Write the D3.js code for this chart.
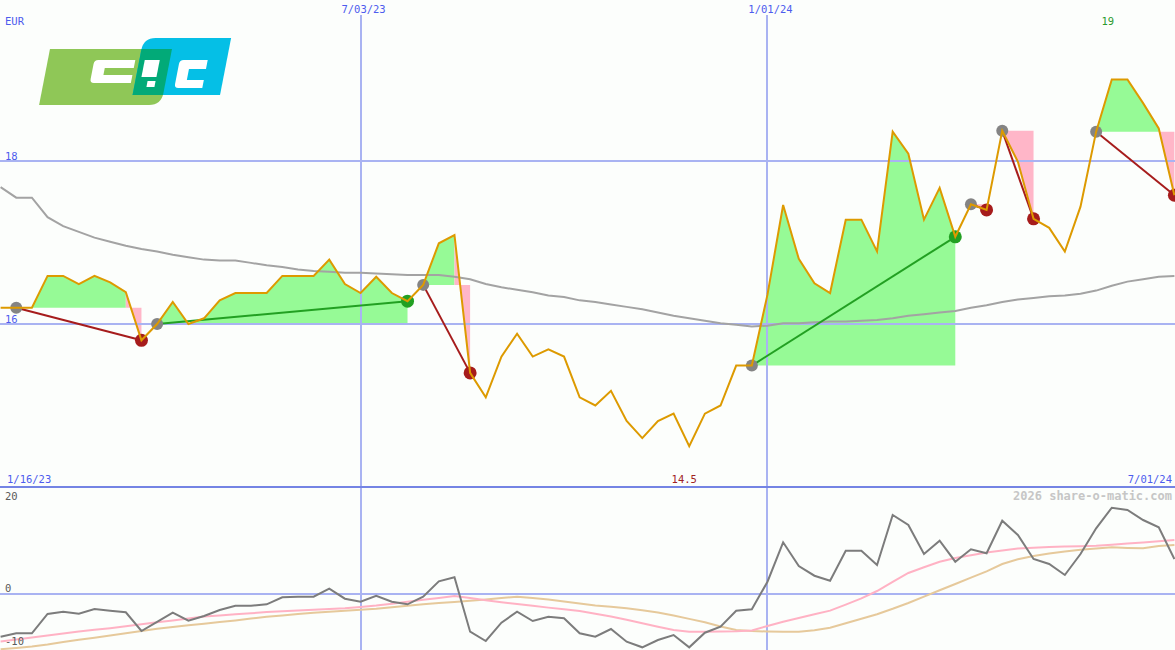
<!DOCTYPE html>
<html>
<head>
<meta charset="utf-8">
<script src="https://cdnjs.cloudflare.com/ajax/libs/d3/7.8.5/d3.min.js"></script>
<style>
  html, body { margin: 0; padding: 0; background: #fcfefc; }
  svg { display: block; }
  text { font-family: "DejaVu Sans Mono", monospace; font-size: 10.5px; }
</style>
</head>
<body>
<svg id="chart" width="1175" height="650"></svg>
<script>
// ---- data: weekly closes (EUR), starting Monday 23 Jan 2023 ----
const firstWeek = "1/23/23";
const closes = [16.2, 16.2, 16.2, 16.59, 16.59, 16.49, 16.59, 16.51, 16.39, 15.80,
  16.0, 16.27, 16.0, 16.07, 16.29, 16.38, 16.38, 16.38, 16.59, 16.59,
  16.59, 16.79, 16.49, 16.38, 16.58, 16.38, 16.28, 16.48, 16.99, 17.09,
  15.40, 15.10, 15.60, 15.88, 15.60, 15.69, 15.60, 15.10, 15.0, 15.18,
  14.81, 14.60, 14.81, 14.90, 14.50, 14.90, 15.0, 15.49, 15.49, 16.36,
  17.46, 16.80, 16.50, 16.38, 17.28, 17.28, 16.89, 18.36, 18.09, 17.28,
  17.67, 17.07, 17.47, 17.40, 18.37, 17.99, 17.29, 17.18, 16.89, 17.44,
  18.36, 19.0, 19.0, 18.71, 18.40, 17.58];

// long moving average of the close
const movingAvg = [17.68, 17.55, 17.55, 17.31, 17.20, 17.13, 17.06, 17.01, 16.96, 16.92,
  16.89, 16.85, 16.82, 16.79, 16.78, 16.78, 16.75, 16.72, 16.70, 16.67,
  16.65, 16.64, 16.63, 16.63, 16.62, 16.61, 16.60, 16.60, 16.60, 16.58,
  16.55, 16.49, 16.45, 16.42, 16.39, 16.35, 16.33, 16.29, 16.27, 16.24,
  16.21, 16.18, 16.14, 16.10, 16.07, 16.04, 16.01, 15.99, 15.97, 15.98,
  16.01, 16.01, 16.02, 16.03, 16.03, 16.04, 16.05, 16.07, 16.10, 16.12,
  16.14, 16.16, 16.20, 16.23, 16.27, 16.30, 16.32, 16.34, 16.35, 16.37,
  16.41, 16.47, 16.52, 16.55, 16.58, 16.59];

// oscillator panel
const momentum = [-8.71, -8.02, -8.02, -4.08, -3.61, -4.02, -3.06, -3.41, -3.73, -7.55,
  -5.71, -3.82, -5.45, -4.49, -3.27, -2.39, -2.39, -2.10, -0.67, -0.55,
  -0.55, 1.08, -0.96, -1.57, -0.35, -1.57, -2.10, -0.55, 2.59, 3.41,
  -7.69, -9.59, -5.86, -3.61, -5.51, -4.63, -4.96, -8.02, -8.71, -7.14,
  -9.73, -10.88, -9.39, -8.37, -10.88, -7.90, -6.67, -3.41, -3.12, 2.51,
  10.55, 5.71, 3.73, 2.71, 8.84, 8.84, 5.92, 16.12, 14.08, 8.16,
  10.88, 6.59, 9.12, 8.31, 14.96, 12.04, 7.14, 6.12, 3.88, 8.16,
  13.41, 17.61, 17.14, 15.10, 13.61, 7.14];

const signalFast = [-9.69, -9.29, -8.88, -8.47, -8.04, -7.65, -7.31, -6.98, -6.59, -6.16,
  -5.76, -5.39, -5.02, -4.61, -4.39, -4.14, -3.94, -3.69, -3.51, -3.35,
  -3.20, -3.06, -2.92, -2.65, -2.37, -2.00, -1.59, -1.18, -0.82, -0.43,
  -0.82, -1.27, -1.67, -2.04, -2.41, -2.78, -3.10, -3.47, -4.02, -4.59,
  -5.27, -5.98, -6.69, -7.35, -7.69, -7.69, -7.63, -7.59, -7.45, -6.53,
  -5.67, -4.90, -4.14, -3.39, -2.18, -0.90, 0.61, 2.49, 4.29, 5.45,
  6.59, 7.35, 7.92, 8.49, 8.86, 9.29, 9.45, 9.59, 9.67, 9.73,
  9.84, 10.04, 10.29, 10.49, 10.76, 11.02];

const signalSlow = [-11.27, -11.00, -10.73, -10.31, -9.80, -9.33, -8.92, -8.49, -8.02, -7.55,
  -7.10, -6.73, -6.39, -6.06, -5.71, -5.39, -5.02, -4.65, -4.37, -4.08,
  -3.84, -3.61, -3.41, -3.20, -3.00, -2.71, -2.39, -2.08, -1.84, -1.63,
  -1.39, -1.10, -0.82, -0.55, -0.82, -1.10, -1.53, -1.94, -2.33, -2.61,
  -2.92, -3.31, -3.76, -4.39, -5.08, -5.78, -6.63, -7.35, -7.57, -7.65,
  -7.69, -7.69, -7.39, -6.88, -5.98, -5.06, -4.12, -3.02, -1.84, -0.55,
  0.76, 2.04, 3.33, 4.63, 6.12, 7.10, 7.76, 8.27, 8.69, 9.04,
  9.29, 9.53, 9.41, 9.35, 9.80, 10.00];

// trades: week index of entry and exit
const tradeEntries = [1, 10, 27, 48, 62, 64, 70];
const tradeExits   = [9, 26, 30, 61, 63, 66, 75];

// axis ticks and labels
const dateTicks = ["7/03/23", "1/01/24"];
const rangeLabels = ["1/16/23", "7/01/24"];
const priceTicks = [16, 18];
const oscTicks = [20, 0, -10];
const currency = "EUR";
const footer = "2026 share-o-matic.com";

// ---- setup ----
const W = 1175, H = 650;
const svg = d3.select("#chart");
const parseDate = d3.timeParse("%m/%d/%y");
const fmtDate = d3.timeFormat("%-m/%d/%y");
const start = parseDate(firstWeek);
const dates = closes.map((_, i) => d3.timeDay.offset(start, 7 * i));

const x = d3.scaleTime().domain([dates[0], dates[dates.length - 1]]).range([0.6, 1174.4]);
const y = d3.scaleLinear().domain([14, 20]).range([487, -2]);
const yo = d3.scaleLinear().domain([-10, 20]).range([643, 496]);

const C = {
  grid: "#a9b3f2", gridDark: "#7484e4", label: "#4d5cee",
  price: "#dd9a00", avg: "#a3a3a3", gain: "#96fa96", loss: "#ffb6c8",
  lossLine: "#a61c1c", gainLine: "#22a022", entry: "#848484"
};

const defs = svg.append("defs");
defs.append("clipPath").attr("id", "clipMain").append("rect").attr("x", 0).attr("y", 0).attr("width", W).attr("height", 487);
defs.append("clipPath").attr("id", "clipOsc").append("rect").attr("x", 0).attr("y", 488).attr("width", W).attr("height", H - 488);

// ---- trade areas (under the grid) ----
const fills = svg.append("g").attr("clip-path", "url(#clipMain)");
const areaGen = d3.area().x(i => x(dates[i]));

tradeEntries.forEach((a, k) => {
  const b = tradeExits[k];
  const p = closes[a];
  const loss = closes[b] < p;
  // colour each weekly segment, then merge runs of equal colour
  const segs = d3.range(a, b).map(s => {
    const col = (loss && s === b - 1) ? C.loss
      : ((closes[s] + closes[s + 1]) / 2 >= p ? C.gain : C.loss);
    return { s, col };
  });
  const runs = [];
  segs.forEach(g => {
    const last = runs[runs.length - 1];
    if (last && last.col === g.col) last.end = g.s + 1;
    else runs.push({ start: g.s, end: g.s + 1, col: g.col });
  });
  runs.forEach(r => {
    fills.append("path")
      .attr("d", areaGen.y0(y(p)).y1(i => y(closes[i]))(d3.range(r.start, r.end + 1)))
      .attr("fill", r.col);
  });
});

// ---- grid ----
const grid = svg.append("g").attr("shape-rendering", "crispEdges");
grid.selectAll("line.h").data(priceTicks).join("line")
  .attr("x1", 0).attr("x2", W).attr("y1", d => Math.round(y(d))).attr("y2", d => Math.round(y(d)))
  .attr("stroke", C.grid).attr("stroke-width", 2);
grid.append("line").attr("x1", 0).attr("x2", W).attr("y1", yo(0)).attr("y2", yo(0))
  .attr("stroke", C.grid).attr("stroke-width", 2);
grid.selectAll("line.v").data(dateTicks).join("line")
  .attr("x1", d => Math.round(x(parseDate(d)))).attr("x2", d => Math.round(x(parseDate(d))))
  .attr("y1", 15).attr("y2", H)
  .attr("stroke", C.grid).attr("stroke-width", 1.5);

const main = svg.append("g").attr("clip-path", "url(#clipMain)");

// moving average
const lineIdx = d3.range(closes.length);
main.append("path")
  .attr("d", d3.line().x(i => x(dates[i])).y(i => y(movingAvg[i]))(lineIdx))
  .attr("fill", "none").attr("stroke", C.avg).attr("stroke-width", 2);

// trade connector lines
tradeEntries.forEach((a, k) => {
  const b = tradeExits[k];
  const loss = closes[b] < closes[a];
  main.append("line")
    .attr("x1", x(dates[a])).attr("y1", y(closes[a]))
    .attr("x2", x(dates[b])).attr("y2", y(closes[b]))
    .attr("stroke", loss ? C.lossLine : C.gainLine).attr("stroke-width", 2);
});

// entry / exit markers
tradeEntries.forEach((a, k) => {
  const b = tradeExits[k];
  const loss = closes[b] < closes[a];
  main.append("circle").attr("cx", x(dates[a])).attr("cy", y(closes[a])).attr("r", 6).attr("fill", C.entry);
  main.append("circle").attr("cx", x(dates[b])).attr("cy", y(closes[b])).attr("r", 6.5)
    .attr("fill", loss ? C.lossLine : C.gainLine);
});

// price line
main.append("path")
  .attr("d", d3.line().x(i => x(dates[i])).y(i => y(closes[i]))(lineIdx))
  .attr("fill", "none").attr("stroke", C.price).attr("stroke-width", 2).attr("stroke-linejoin", "miter");

// panel divider
svg.append("line").attr("x1", 0).attr("x2", W).attr("y1", 487).attr("y2", 487)
  .attr("stroke", C.gridDark).attr("stroke-width", 2).attr("shape-rendering", "crispEdges");

// ---- oscillator panel ----
const osc = svg.append("g").attr("clip-path", "url(#clipOsc)");
const oscLine = arr => d3.line().x(i => x(dates[i])).y(i => yo(arr[i]))(lineIdx);
osc.append("path").attr("d", oscLine(signalSlow)).attr("fill", "none").attr("stroke", "#e6c99b").attr("stroke-width", 2);
osc.append("path").attr("d", oscLine(signalFast)).attr("fill", "none").attr("stroke", "#ffb2c4").attr("stroke-width", 2);
osc.append("path").attr("d", oscLine(momentum)).attr("fill", "none").attr("stroke", "#7c7c7c").attr("stroke-width", 2);

// ---- labels ----
const lab = svg.append("g");
lab.append("text").attr("x", 5).attr("y", 25).attr("fill", C.label).text(currency);
lab.selectAll("text.dt").data(dateTicks).join("text")
  .attr("x", d => x(parseDate(d)) + 3).attr("y", 13).attr("text-anchor", "middle")
  .attr("fill", C.label).text(d => fmtDate(parseDate(d)));
lab.selectAll("text.pt").data(priceTicks).join("text")
  .attr("x", 5).attr("y", d => y(d) - 1).attr("fill", C.label).text(d => d);
lab.append("text").attr("x", 7).attr("y", 483).attr("fill", C.label).text(fmtDate(parseDate(rangeLabels[0])));
lab.append("text").attr("x", 1172).attr("y", 483).attr("text-anchor", "end").attr("fill", C.label).text(fmtDate(parseDate(rangeLabels[1])));

// extreme close labels
const iMax = d3.maxIndex(closes), iMin = d3.minIndex(closes);
lab.append("text").attr("x", x(dates[iMax]) - 4).attr("y", 25).attr("text-anchor", "middle")
  .attr("fill", "#2c9a2c").text(d3.format(".0f")(closes[iMax]));
lab.append("text").attr("x", x(dates[iMin]) - 5).attr("y", 483).attr("text-anchor", "middle")
  .attr("fill", "#a02222").text(closes[iMin]);

// oscillator ticks
const oscOffset = { "20": 4, "0": -2, "-10": 2 };
lab.selectAll("text.ot").data(oscTicks).join("text")
  .attr("x", 5).attr("y", d => yo(d) + oscOffset[d]).attr("fill", "#5a5a5a").text(d => d);
lab.append("text").attr("x", 1172).attr("y", 500).attr("text-anchor", "end")
  .attr("fill", "#c6c6c6").attr("font-weight", "bold").style("font-size", "12px").text(footer);

// ---- logo ----
const logo = svg.append("g").attr("transform", "skewX(-11)");
const k = Math.tan(11 * Math.PI / 180);
// green block with rounded lower-right corner
logo.append("path").attr("fill", "#8fc757")
  .attr("d", "M59.5,49 H181.5 V93 Q181.5,105 169.5,105 H59.5 Z");
// blue block with rounded upper-left corner
logo.append("path").attr("fill", "#05bfe6")
  .attr("d", "M163,38 H238.5 V95 H151 V50 Q151,38 163,38 Z");
// overlap
logo.append("rect").attr("x", 151).attr("y", 49).attr("width", 30.5).attr("height", 46).attr("fill", "#02aa78");
// white letters
const wl = logo.append("g").attr("fill", "#ffffff");
const sx = (xx, yy) => xx + k * yy;
wl.append("path").attr("d",
  `M${sx(96, 72)},60 H${sx(133, 72)} V68 H${sx(104, 72)} V75 H${sx(133, 72)} V83 H${sx(96, 72)} Q${sx(92, 72)},83 ${sx(92, 72)},79 V64 Q${sx(92, 72)},60 ${sx(96, 72)},60 Z`);
wl.append("rect").attr("x", sx(143, 69)).attr("y", 60).attr("width", 15).attr("height", 17);
wl.append("rect").attr("x", sx(147, 84)).attr("y", 81).attr("width", 8).attr("height", 6);
wl.append("path").attr("d",
  `M${sx(181, 74)},60 H${sx(205, 74)} V69 H${sx(188, 74)} V80 H${sx(205, 74)} V88 H${sx(181, 74)} Q${sx(177, 74)},88 ${sx(177, 74)},84 V64 Q${sx(177, 74)},60 ${sx(181, 74)},60 Z`);
</script>
</body>
</html>
